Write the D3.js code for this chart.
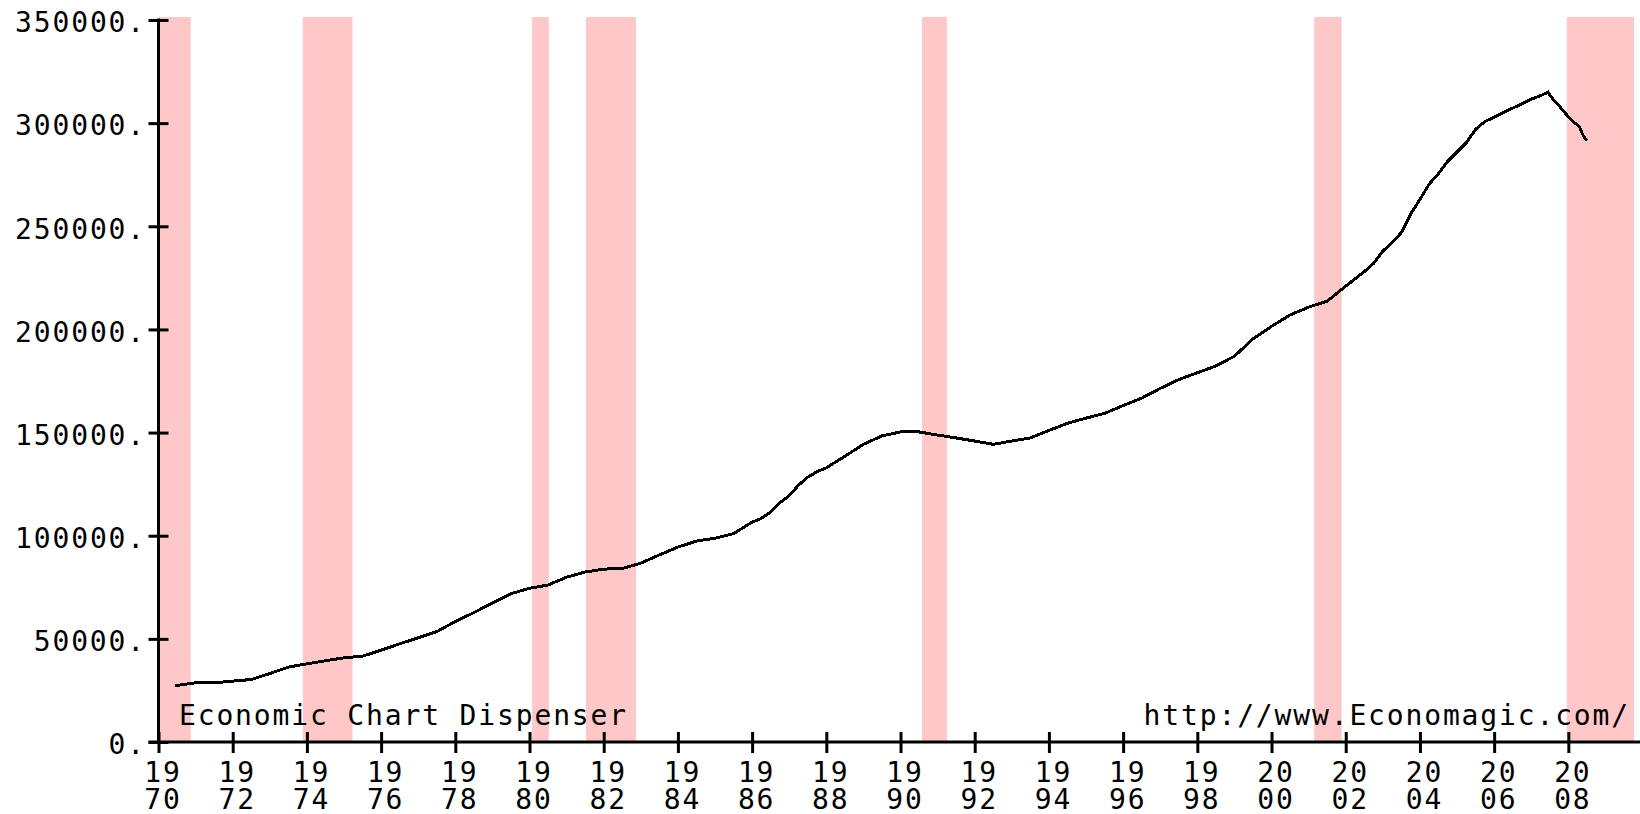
<!DOCTYPE html>
<html>
<head>
<meta charset="utf-8">
<script src="https://cdn.jsdelivr.net/npm/d3@7"></script>
<style>
  html, body { margin: 0; padding: 0; background: #fff; }
  svg { display: block; }
  text { font-family: "DejaVu Sans Mono", monospace; font-size: 28px; letter-spacing: 1.85px; fill: #000; }
</style>
</head>
<body>
<div id="chart"></div>
<script>
// time (decimal year) and value of the series
const dates = [
    1970.45, 1971.0, 1971.5, 1972.0, 1972.5, 1973.0, 1973.5, 1974.0, 1974.5, 1975.0,
    1975.5, 1976.0, 1976.5, 1977.0, 1977.5, 1978.0, 1978.5, 1979.0, 1979.5, 1980.0,
    1980.5, 1981.0, 1981.5, 1982.0, 1982.5, 1983.0, 1983.5, 1984.0, 1984.5, 1985.0,
    1985.5, 1986.0, 1986.25, 1986.5, 1986.75, 1987.0, 1987.25, 1987.5, 1987.75, 1988.0,
    1988.5, 1989.0, 1989.5, 1990.0, 1990.5, 1991.0, 1991.5, 1992.0, 1992.5, 1993.0,
    1993.5, 1994.0, 1994.5, 1995.0, 1995.5, 1996.0, 1996.5, 1997.0, 1997.5, 1998.0,
    1998.5, 1999.0, 1999.5, 2000.0, 2000.5, 2001.0, 2001.5, 2002.0, 2002.5, 2002.75,
    2003.0, 2003.25, 2003.5, 2003.75, 2004.0, 2004.25, 2004.5, 2004.75, 2005.0, 2005.25,
    2005.5, 2005.75, 2006.0, 2006.25, 2006.5, 2006.75, 2007.0, 2007.25, 2007.45, 2007.6,
    2007.75, 2007.9, 2008.0, 2008.1, 2008.2, 2008.3, 2008.4, 2008.5
];
const values = [
    27300, 28700, 28700, 29500, 30300, 33200, 36300, 37900, 39400, 40800,
    41600, 44500, 47600, 50500, 53500, 58400, 62700, 67400, 71900, 74500,
    76100, 79900, 82400, 83800, 84100, 86700, 90700, 94500, 97400, 98800,
    101000, 106600, 108400, 111400, 116000, 119400, 124500, 128400, 131000, 132900,
    138500, 144300, 148400, 150300, 150300, 148800, 147400, 145900, 144300, 145900,
    147400, 151000, 154500, 157000, 159300, 163100, 166700, 171400, 175700, 179000,
    182300, 187000, 195400, 201500, 207000, 210800, 213700, 221000, 228000, 232000,
    238000, 242000, 247000, 256000, 263000, 270500, 275500, 281500, 286000, 290500,
    297000, 300800, 302800, 305200, 307300, 309300, 311600, 313300, 315000, 311200,
    308400, 305200, 303100, 301100, 299800, 298200, 294000, 291500
];

// NBER recessions, decimal years
const recessionStart = [1970.0, 1973.89, 1980.07, 1981.52, 1990.58, 2001.15, 2007.96];
const recessionEnd   = [1970.87, 1975.23, 1980.52, 1982.87, 1991.25, 2001.89, 2009.77];

const yTicks = [0, 50000, 100000, 150000, 200000, 250000, 300000, 350000];
const xTickYears = [1970, 1972, 1974, 1976, 1978, 1980, 1982, 1984, 1986, 1988,
    1990, 1992, 1994, 1996, 1998, 2000, 2002, 2004, 2006, 2008];

const data = dates.map((d, i) => ({ t: d, v: values[i] }));

const W = 1640, H = 814;
const plotLeft = 158.5, plotRight = 1634, plotTop = 20, plotBottom = 742;

const svg = d3.select("#chart")
    .append("svg")
    .attr("width", W)
    .attr("height", H);

const x = d3.scaleLinear()
    .domain([1970, 2009.77])
    .range([plotLeft, plotRight]);

const y = d3.scaleLinear()
    .domain([0, 350000])
    .range([plotBottom, plotTop]);

// recession shading
svg.append("g")
    .selectAll("rect")
    .data(recessionStart.map((s, i) => [s, recessionEnd[i]]))
    .join("rect")
    .attr("x", d => x(d[0]))
    .attr("width", d => x(d[1]) - x(d[0]))
    .attr("y", y(350000) - 3)
    .attr("height", y(0) - y(350000) + 3)
    .attr("fill", "#ffc8c8");

// the series
svg.append("path")
    .datum(data)
    .attr("fill", "none")
    .attr("stroke", "#000")
    .attr("stroke-width", 3)
    .attr("shape-rendering", "crispEdges")
    .attr("d", d3.line().x(d => x(d.t)).y(d => y(d.v)));

// y axis, ticks cross the line
const yAxis = svg.append("g")
    .attr("transform", `translate(${plotLeft},0)`)
    .call(d3.axisLeft(y).tickValues(yTicks).tickSize(10).tickPadding(2.5).tickFormat(d => d + "."));
yAxis.attr("font-size", null).attr("font-family", null);
yAxis.select(".domain").remove();
yAxis.selectAll(".tick line").attr("x2", 10).attr("x1", -10).attr("stroke-width", 3);
yAxis.selectAll(".tick text").attr("dy", "0.42em");
yAxis.append("line")
    .attr("y1", y(350000) - 1.5).attr("y2", y(0) + 1.5)
    .attr("stroke", "#000").attr("stroke-width", 3);

// x axis
const xAxis = svg.append("g")
    .attr("transform", `translate(0,${plotBottom})`)
    .call(d3.axisBottom(x).tickValues(xTickYears).tickSize(10).tickFormat(""));
xAxis.attr("font-size", null).attr("font-family", null);
xAxis.select(".domain").remove();
xAxis.selectAll(".tick text").remove();
xAxis.selectAll(".tick line").attr("y1", -10).attr("y2", 11).attr("stroke-width", 3);
xAxis.append("line")
    .attr("x1", plotLeft - 10).attr("x2", W)
    .attr("stroke", "#000").attr("stroke-width", 3);

// year labels split over two lines: century then year
const ticks = xAxis.selectAll(".tick");
ticks.append("text")
    .attr("text-anchor", "middle")
    .attr("x", 4).attr("y", 40)
    .text(d => String(d).slice(0, 2));
ticks.append("text")
    .attr("text-anchor", "middle")
    .attr("x", 4).attr("y", 66.5)
    .text(d => String(d).slice(2));

// captions
svg.append("text")
    .attr("x", 179)
    .attr("y", 725)
    .text("Economic Chart Dispenser");

svg.append("text")
    .attr("x", 1630)
    .attr("y", 725)
    .attr("text-anchor", "end")
    .text("http://www.Economagic.com/");
</script>
</body>
</html>
